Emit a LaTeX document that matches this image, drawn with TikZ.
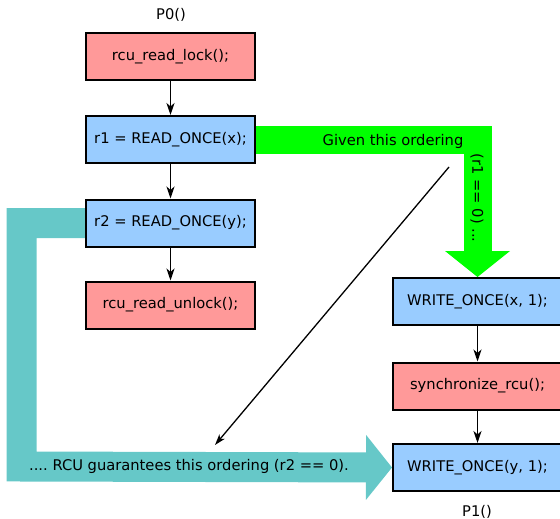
\documentclass[tikz,border=0pt]{standalone}
\usepackage{fontspec}
\setmainfont{DejaVu Sans}
\usetikzlibrary{arrows.meta,backgrounds}
\definecolor{boxred}{HTML}{FF9999}
\definecolor{boxblue}{HTML}{99CCFF}
\definecolor{bandgreen}{HTML}{00FF00}
\definecolor{bandteal}{HTML}{66C8C8}
\frenchspacing
\begin{document}
\begin{tikzpicture}[x=1pt,y=-1pt,
  font=\fontsize{14.7}{17}\selectfont,
  stmt/.style={draw=black, line width=2pt, minimum width=169pt, minimum height=47pt, inner sep=0pt},
  rcubox/.style={stmt, fill=boxred},
  accbox/.style={stmt, fill=boxblue},
  seq/.style={line width=1.8pt, -{Stealth[length=12pt,width=8pt,inset=3.5pt]}},
  band/.style={line width=#1, line join=miter},
  bigtip/.style={-{Triangle[length=26pt,width=65pt,line width=0pt]}}]
\useasboundingbox (0,0) rectangle (560,519);
% P0
\node (p0) at (171,15) {P0()};
\node[rcubox] (lock) at (170.5,56.5) {rcu\_read\_lock();};
\node[accbox] (r1) at (170.5,139.5) {r1 = READ\_ONCE(x);};
\node[accbox] (r2) at (170.5,223) {r2 = READ\_ONCE(y);};
\node[rcubox] (unlock) at (170.5,305) {rcu\_read\_unlock();};
% P1
\node[accbox] (wx) at (477.5,301.5) {WRITE\_ONCE(x, 1);};
\node[rcubox] (sync) at (477.5,386) {synchronize\_rcu();};
\node[accbox] (wy) at (477.5,467.5) {WRITE\_ONCE(y, 1);};
\node (p1) at (477,512) {P1()};
% sequence arrows
\draw[seq] (lock) -- (r1);
\draw[seq] (r1) -- (r2);
\draw[seq] (r2) -- (unlock);
\draw[seq] (wx) -- (sync);
\draw[seq] (sync) -- (wy);
% bands
\coordinate (tc) at (21.5,466.5);
\begin{pgfonlayer}{background}
\draw[band=28pt, bandgreen, bigtip] (r1.east) -| (wx.north);
\draw[band=30pt, bandteal, bigtip] (r2.west) -| (tc) -- (wy.west);
\end{pgfonlayer}
\node (given) at (393,141) {Given this ordering};
\node[rotate=-90] (r1zero) at (477,198) {(r1 == 0) ...};
\node (guar) at (189,466) {.... RCU guarantees this ordering (r2 == 0).};
% thin arrow
\coordinate (ls) at (449,167);
\coordinate (le) at (215,445);
\draw[line width=1.3pt, -{Stealth[length=11pt,width=7pt,inset=3pt]}] (ls) -- (le);
\end{tikzpicture}
\end{document}
